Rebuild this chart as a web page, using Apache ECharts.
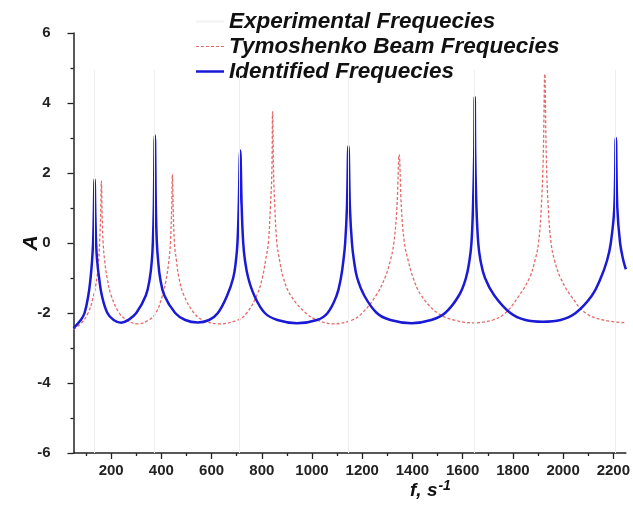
<!DOCTYPE html>
<html>
<head>
<meta charset="utf-8">
<script src="https://cdn.jsdelivr.net/npm/echarts@6/dist/echarts.min.js"></script>
<style>
  html, body { margin: 0; padding: 0; background: #fff; }
  #chart { width: 633px; height: 522px; }
</style>
</head>
<body>
<div id="chart"></div>
<script>
// experimental frequencies (faint vertical lines)
var expFreq = [132, 372, 712, 1143, 1646, 2207];
var expTop = 4.95;

// Tymoshenko beam model, [f, A]
var beamData = [
    [50, -2.47], [80, -2.3], [108, -2.0], [130, -1.5], [143, -1.0], [150, -0.5], [154, 0], [158, 0.8], [161, 1.77],
    [164, 0.8], [168, 0], [174, -0.5], [184, -1.0], [200, -1.5], [232, -2.0], [262, -2.2], [304, -2.31],
    [350, -2.2], [378, -2.0], [404, -1.5], [420, -1.0], [430, -0.5], [436, 0], [441, 1.0], [444, 1.97],
    [447, 1.0], [452, 0], [460, -0.5], [470, -1.0], [490, -1.5], [530, -2.0], [565, -2.2], [631, -2.31],
    [705, -2.2], [740, -2.0], [780, -1.5], [802, -1.0], [815, -0.5], [826, 0], [834, 1.0], [840, 2.0], [843, 3.75],
    [847, 2.0], [852, 1.0], [860, 0], [871, -0.5], [886, -1.0], [915, -1.5], [975, -2.0], [1020, -2.2], [1085, -2.31],
    [1160, -2.2], [1200, -2.0], [1255, -1.5], [1290, -1.0], [1312, -0.5], [1326, 0], [1338, 1.0], [1347, 2.53],
    [1356, 1.0], [1368, 0], [1383, -0.5], [1403, -1.0], [1435, -1.5], [1500, -2.0], [1565, -2.2], [1640, -2.28],
    [1720, -2.2], [1770, -2.0], [1825, -1.5], [1866, -1.0], [1888, -0.5], [1902, 0], [1913, 1.0], [1921, 2.5], [1927, 4.83],
    [1933, 2.5], [1941, 1.0], [1952, 0], [1966, -0.5], [1990, -1.0], [2030, -1.5], [2090, -2.0], [2160, -2.2], [2250, -2.28]
];

// identified model, [f, A]
var identData = [
    [50, -2.43], [79, -2.2], [94, -2.0], [109, -1.5], [118, -1.0], [124, -0.5], [128, 0], [131, 0.8], [134, 1.82],
    [137, 0.8], [140, 0], [144, -0.5], [152, -1.0], [163, -1.5], [185, -2.0], [210, -2.2], [240, -2.28],
    [268, -2.2], [300, -2.0], [338, -1.5], [354, -1.0], [362, -0.5], [366, 0], [370, 1.0], [374, 3.08],
    [378, 1.0], [382, 0], [387, -0.5], [395, -1.0], [412, -1.5], [455, -2.0], [495, -2.2], [545, -2.27],
    [590, -2.2], [625, -2.0], [662, -1.5], [686, -1.0], [697, -0.5], [703, 0], [708, 1.0], [714, 2.64],
    [720, 1.0], [726, 0], [733, -0.5], [746, -1.0], [770, -1.5], [812, -2.0], [862, -2.2], [940, -2.29],
    [1020, -2.2], [1062, -2.0], [1098, -1.5], [1115, -1.0], [1125, -0.5], [1132, 0], [1139, 1.0], [1145, 2.77],
    [1151, 1.0], [1159, 0], [1167, -0.5], [1180, -1.0], [1208, -1.5], [1258, -2.0], [1312, -2.2], [1396, -2.29],
    [1475, -2.2], [1530, -2.0], [1585, -1.5], [1613, -1.0], [1627, -0.5], [1635, 0], [1641, 1.0], [1646, 2.5], [1648, 4.18],
    [1650, 2.5], [1655, 1.0], [1662, 0], [1671, -0.5], [1689, -1.0], [1726, -1.5], [1790, -2.0], [1850, -2.2], [1919, -2.25],
    [1990, -2.2], [2050, -2.0], [2115, -1.5], [2150, -1.0], [2175, -0.5], [2190, 0], [2204, 1.0], [2210, 3.01],
    [2216, 1.0], [2227, 0], [2240, -0.5], [2250, -0.75]
];

var xLabels = [200, 400, 600, 800, 1000, 1200, 1400, 1600, 1800, 2000, 2200];
var xMinor = [100, 300, 500, 700, 900, 1100, 1300, 1500, 1700, 1900, 2100];

var seriesNames = ['Experimental Frequecies', 'Tymoshenko Beam Frequecies', 'Identified Frequecies'];

var FONT = 'Liberation Sans, Arial, sans-serif';
var dashIcon = 'path://M0,0h3v1h-3zM5,0h3v1h-3zM10,0h3v1h-3zM15,0h3v1h-3zM20,0h3v1h-3zM25,0h3v1h-3z';

var myChart = echarts.init(document.getElementById('chart'));

var option = {
    animation: false,
    backgroundColor: '#fff',
    grid: { left: 73.5, right: -1, top: 33, bottom: 69, containLabel: false },
    legend: {
        orient: 'vertical',
        left: 191,
        top: 5,
        itemWidth: 28,
        itemHeight: 2.5,
        itemGap: 2,
        data: [
            { name: seriesNames[0], icon: 'rect' },
            { name: seriesNames[1], icon: dashIcon },
            { name: seriesNames[2], icon: 'rect' }
        ],
        textStyle: { fontFamily: FONT, fontSize: 22.5, fontWeight: 'bold', fontStyle: 'italic', color: '#111' }
    },
    graphic: [{
        type: 'text',
        left: 410,
        top: 479,
        style: {
            text: '{t|f, s}{s|-1}',
            rich: {
                t: { fontFamily: FONT, fontSize: 19, fontWeight: 'bold', fontStyle: 'italic', fill: '#111' },
                s: { fontFamily: FONT, fontSize: 14, fontWeight: 'bold', fontStyle: 'italic', fill: '#111', verticalAlign: 'top', padding: [0, 0, 10, 1] }
            }
        }
    }],
    xAxis: [
        {
            type: 'value',
            min: 50,
            max: 2250,
            axisLine: { onZero: false, lineStyle: { color: '#222', width: 1.5 } },
            axisTick: { show: true, length: 6, customValues: xLabels, lineStyle: { color: '#222', width: 1.3 } },
            axisLabel: {
                customValues: xLabels, margin: 10, fontFamily: FONT, fontSize: 15, fontWeight: 'bold', color: '#222',
                formatter: function (v) { return String(v); }
            },
            splitLine: { show: false }
        },
        {
            type: 'value',
            min: 50,
            max: 2250,
            position: 'bottom',
            axisLine: { show: false, onZero: false },
            axisTick: { show: true, length: 3, customValues: xMinor, lineStyle: { color: '#222', width: 1.3 } },
            axisLabel: { show: false },
            splitLine: { show: false }
        }
    ],
    yAxis: {
        type: 'value',
        min: -6,
        max: 6,
        interval: 2,
        name: 'A',
        nameLocation: 'middle',
        nameGap: 32,
        nameMoveOverlap: false,
        nameTextStyle: { fontFamily: FONT, fontSize: 21, fontWeight: 'bold', fontStyle: 'italic', color: '#111' },
        axisLine: { show: true, onZero: false, lineStyle: { color: '#222', width: 1.5 } },
        axisTick: { show: true, length: 6, lineStyle: { color: '#222', width: 1.3 } },
        minorTick: { show: true, splitNumber: 2, length: 3, lineStyle: { color: '#222', width: 1.3 } },
        axisLabel: { margin: 23, fontFamily: FONT, fontSize: 15, fontWeight: 'bold', color: '#222' },
        splitLine: { show: false }
    },
    series: [
        {
            name: seriesNames[0],
            type: 'line',
            data: [],
            symbol: 'none',
            lineStyle: { color: '#efefef', width: 1 },
            itemStyle: { color: '#f4f4f4' },
            markLine: {
                silent: true,
                symbol: 'none',
                label: { show: false },
                lineStyle: { color: '#efefef', width: 1, type: 'solid' },
                data: expFreq.map(function (f) {
                    return [{ coord: [f, -6] }, { coord: [f, expTop] }];
                })
            }
        },
        {
            name: seriesNames[1],
            type: 'line',
            data: beamData,
            symbol: 'none',
            smooth: 0.4,
            lineStyle: { color: '#e46a6a', width: 1.3, type: [3, 2] },
            itemStyle: { color: '#e46a6a' },
            z: 3
        },
        {
            name: seriesNames[2],
            type: 'line',
            data: identData,
            symbol: 'none',
            smooth: 0.4,
            lineStyle: { color: '#1a1ad6', width: 2.5, join: 'round' },
            itemStyle: { color: '#1a1ad6' },
            z: 4
        }
    ]
};

myChart.setOption(option);
</script>
</body>
</html>
